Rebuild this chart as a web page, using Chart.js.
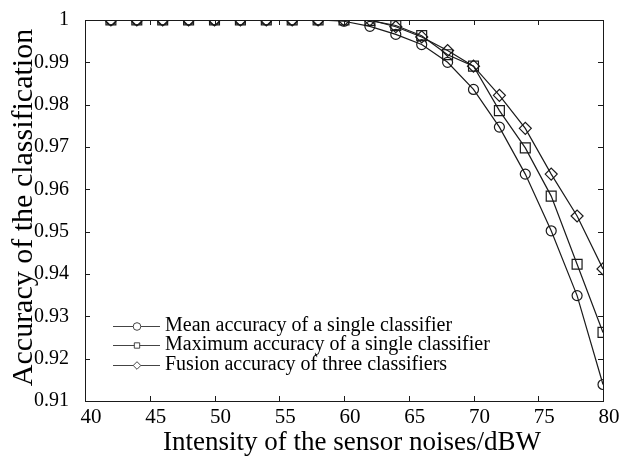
<!DOCTYPE html>
<html>
<head>
<meta charset="utf-8">
<script src="https://cdn.jsdelivr.net/npm/chart.js@4.4.1/dist/chart.umd.min.js"></script>
<style>
  html, body { margin: 0; padding: 0; background: #fff; }
  #wrap { width: 635px; height: 458px; }
</style>
</head>
<body>
<div id="wrap"><canvas id="c" width="635" height="458"></canvas></div>
<script>
// Noise intensity (dBW) and classification accuracy per method
const noiseLevels = [42, 44, 46, 48, 50, 52, 54, 56, 58, 60, 62, 64, 66, 68, 70, 72, 74, 76, 78, 80];
const meanAcc   = [1, 1, 1, 1, 1, 1, 1, 1, 1, 0.9997, 0.9985, 0.9966, 0.9942, 0.9900, 0.9836, 0.9747, 0.9636, 0.9502, 0.9349, 0.9139];
const maxAcc    = [1, 1, 1, 1, 1, 1, 1, 1, 1, 1, 0.9999, 0.9987, 0.9963, 0.9918, 0.9891, 0.9786, 0.9698, 0.9584, 0.9423, 0.9262];
const fusionAcc = [1, 1, 1, 1, 1, 1, 1, 1, 1, 1, 1, 0.9984, 0.9960, 0.9928, 0.9891, 0.9822, 0.9744, 0.9636, 0.9537, 0.9412];
const seriesNames = [
  'Mean accuracy of a single classifier',
  'Maximum accuracy of a single classifier',
  'Fusion accuracy of three classifiers'
];
const xTitle = 'Intensity of the sensor noises/dBW';
const yTitle = 'Accuracy of the classification';

const FONT = '"Liberation Serif", "Times New Roman", serif';
const INK = '#1a1a1a';

const toPoints = (ys) => noiseLevels.map((x, i) => ({ x: x, y: ys[i] }));

function series(label, ys, style, radius) {
  return {
    label: label,
    data: toPoints(ys),
    borderColor: INK,
    borderWidth: 1.2,
    pointStyle: style,
    pointRadius: radius,
    pointBorderWidth: 1.2,
    pointBorderColor: INK,
    pointBackgroundColor: 'rgba(0,0,0,0)',
    tension: 0,
    fill: false
  };
}

// Box frame with inward ticks on all four sides, axis titles and in-plot legend
const framePlugin = {
  id: 'frame',
  afterDatasetsDraw(chart) {
    const { ctx, chartArea: a, scales } = chart;
    const len = 5;
    ctx.save();
    ctx.strokeStyle = INK;
    ctx.lineWidth = 1;
    ctx.strokeRect(a.left + 0.5, a.top + 0.5, a.right - a.left, a.bottom - a.top);
    ctx.beginPath();
    scales.x.ticks.forEach(t => {
      const px = Math.round(scales.x.getPixelForValue(t.value)) + 0.5;
      ctx.moveTo(px, a.bottom); ctx.lineTo(px, a.bottom - len);
      ctx.moveTo(px, a.top); ctx.lineTo(px, a.top + len);
    });
    scales.y.ticks.forEach(t => {
      const py = Math.round(scales.y.getPixelForValue(t.value)) + 0.5;
      ctx.moveTo(a.left, py); ctx.lineTo(a.left + len, py);
      ctx.moveTo(a.right, py); ctx.lineTo(a.right - len, py);
    });
    ctx.stroke();

    // axis titles
    ctx.fillStyle = '#000';
    ctx.textAlign = 'center';
    ctx.textBaseline = 'alphabetic';
    ctx.font = '27px ' + FONT;
    ctx.fillText(xTitle, (a.left + a.right) / 2 + 8, 450);
    ctx.save();
    ctx.translate(32, (a.top + a.bottom) / 2 - 3);
    ctx.rotate(-Math.PI / 2);
    ctx.font = '30px ' + FONT;
    ctx.fillText(yTitle, 0, 0);
    ctx.restore();

    // legend
    const lx0 = a.left + 28, lx1 = a.left + 75, mx = a.left + 52;
    const tx = a.left + 80;
    const rows = [a.top + 306, a.top + 325, a.top + 345];
    const styles = ['circle', 'rect', 'rectRot'];
    ctx.font = '20px ' + FONT;
    ctx.textAlign = 'left';
    ctx.textBaseline = 'middle';
    chart.data.datasets.forEach((ds, i) => {
      const y = rows[i];
      ctx.strokeStyle = '#444';
      ctx.lineWidth = 1;
      ctx.beginPath();
      ctx.moveTo(lx0, y + 0.5); ctx.lineTo(lx1, y + 0.5);
      ctx.stroke();
      ctx.fillStyle = '#fff';
      Chart.helpers.drawPoint(ctx, { pointStyle: styles[i], radius: 3.8, borderWidth: 1 }, mx, y + 0.5);
      ctx.fillStyle = '#000';
      ctx.fillText(ds.label, tx, y);
    });
    ctx.restore();
  }
};

new Chart(document.getElementById('c'), {
  type: 'line',
  data: {
    datasets: [
      series(seriesNames[0], meanAcc, 'circle', 5),
      series(seriesNames[1], maxAcc, 'rect', 7),
      series(seriesNames[2], fusionAcc, 'rectRot', 6)
    ]
  },
  options: {
    responsive: false,
    animation: false,
    devicePixelRatio: 1,
    layout: { padding: { top: 15, right: 32, left: 0, bottom: 0 } },
    plugins: { legend: { display: false }, tooltip: { enabled: false } },
    scales: {
      x: {
        type: 'linear',
        min: 40, max: 80,
        grid: { display: false },
        border: { display: false },
        ticks: { stepSize: 5, color: '#000', font: { family: FONT, size: 21 }, padding: -4, labelOffset: 6 },
        title: { display: false, text: xTitle },
        afterFit(s) { s.height = 57; }
      },
      y: {
        min: 0.91, max: 1,
        grid: { display: false },
        border: { display: false },
        ticks: {
          stepSize: 0.01,
          color: '#000',
          font: { family: FONT, size: 20 },
          padding: 8,
          callback: (v) => String(+v.toFixed(2))
        },
        title: { display: false, text: yTitle },
        afterFit(s) { s.width = 85; }
      }
    }
  },
  plugins: [framePlugin]
});
</script>
</body>
</html>
